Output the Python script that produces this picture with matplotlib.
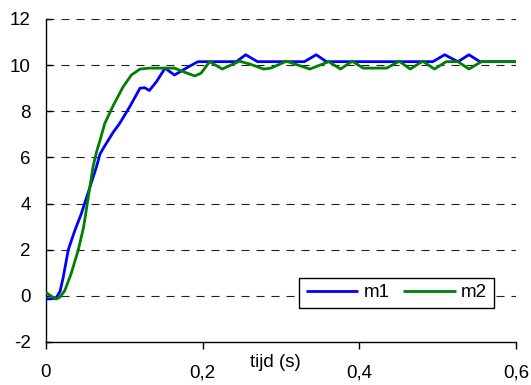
import matplotlib
matplotlib.use("Agg")
import matplotlib.pyplot as plt
from matplotlib.ticker import FixedLocator, FixedFormatter

plt.rcParams["font.family"] = ["Liberation Sans", "DejaVu Sans"]
plt.rcParams["lines.scale_dashes"] = False

# measured response, series m1
t_m1 = [0.000, 0.010, 0.0135, 0.018, 0.022, 0.0285, 0.037, 0.045, 0.056, 0.0645,
        0.069, 0.075, 0.086, 0.094, 0.107, 0.120, 0.126, 0.132, 0.141, 0.152,
        0.164, 0.179, 0.194, 0.243, 0.255, 0.270, 0.330, 0.345, 0.358, 0.494,
        0.509, 0.526, 0.540, 0.554, 0.600]
v_m1 = [-0.14, -0.12, -0.06, 0.20, 0.80, 2.00, 2.85, 3.55, 4.70, 5.60,
        6.15, 6.50, 7.10, 7.47, 8.20, 9.00, 9.02, 8.90, 9.28, 9.87,
        9.57, 9.87, 10.15, 10.15, 10.45, 10.15, 10.15, 10.45, 10.15, 10.15,
        10.45, 10.15, 10.45, 10.15, 10.15]

# measured response, series m2
t_m2 = [0.000, 0.006, 0.013, 0.018, 0.024, 0.032, 0.041, 0.048, 0.054, 0.060,
        0.065, 0.069, 0.075, 0.086, 0.0985, 0.109, 0.120, 0.132, 0.164, 0.175,
        0.190, 0.198, 0.209, 0.225, 0.247, 0.260, 0.278, 0.287, 0.307, 0.337,
        0.361, 0.376, 0.391, 0.405, 0.435, 0.451, 0.465, 0.481, 0.496, 0.511,
        0.526, 0.540, 0.556, 0.600]
v_m2 = [0.15, 0.00, -0.14, -0.05, 0.23, 0.95, 1.96, 2.97, 4.28, 5.58,
        6.30, 6.74, 7.47, 8.26, 9.06, 9.57, 9.83, 9.87, 9.87, 9.72,
        9.53, 9.65, 10.15, 9.83, 10.17, 10.05, 9.83, 9.87, 10.17, 9.83,
        10.15, 9.83, 10.17, 9.87, 9.87, 10.17, 9.83, 10.17, 9.83, 10.15,
        10.15, 9.83, 10.15, 10.15]

x_ticks = [0.0, 0.2, 0.4, 0.6]
x_tick_labels = ["0", "0,2", "0,4", "0,6"]
y_ticks = [-2, 0, 2, 4, 6, 8, 10, 12]
y_tick_labels = ["-2", "0", "2", "4", "6", "8", "10", "12"]

fig = plt.figure(figsize=(5.31, 3.85), dpi=100)
ax = fig.add_axes([0.0866, 0.1117, 0.885, 0.839])

ax.set_xlim(0, 0.6)
ax.set_ylim(-2, 12)

# dashed horizontal grid
for yv in y_ticks[1:]:
    ax.axhline(yv, color="#202020", lw=0.8, linestyle=(0, (5.8, 5.0)), zorder=1)

ax.plot(t_m1, v_m1, color="#0000FF", lw=2.0, label="m1", zorder=3,
        solid_joinstyle="round", solid_capstyle="butt")
ax.plot(t_m2, v_m2, color="#008000", lw=2.0, label="m2", zorder=4,
        solid_joinstyle="round", solid_capstyle="butt")

ax.xaxis.set_major_locator(FixedLocator(x_ticks))
ax.xaxis.set_major_formatter(FixedFormatter(x_tick_labels))
ax.yaxis.set_major_locator(FixedLocator(y_ticks))
ax.yaxis.set_major_formatter(FixedFormatter(y_tick_labels))

ax.tick_params(axis="x", direction="out", length=5, width=1, pad=11, labelsize=13.5)
ax.tick_params(axis="y", direction="in", length=4, width=1, pad=11, labelsize=13.5)

for s in ["top", "right"]:
    ax.spines[s].set_visible(False)
for s in ["left", "bottom"]:
    ax.spines[s].set_linewidth(1.0)
    ax.spines[s].set_color("black")

ax.text(0.489, -0.062, "tijd (s)", transform=ax.transAxes, ha="center",
        va="center", fontsize=13.5)

leg = ax.legend(loc="lower right", bbox_to_anchor=(0.953, 0.106), ncol=2,
                fontsize=13.5, frameon=True, fancybox=False, shadow=False,
                handlelength=2.8, handletextpad=0.3, columnspacing=0.7,
                borderpad=0.35, borderaxespad=0.0)
leg.get_frame().set_edgecolor("black")
leg.get_frame().set_linewidth(1.0)
leg.get_frame().set_alpha(1.0)
leg.set_zorder(5)

fig.savefig("out.png", dpi=100)
